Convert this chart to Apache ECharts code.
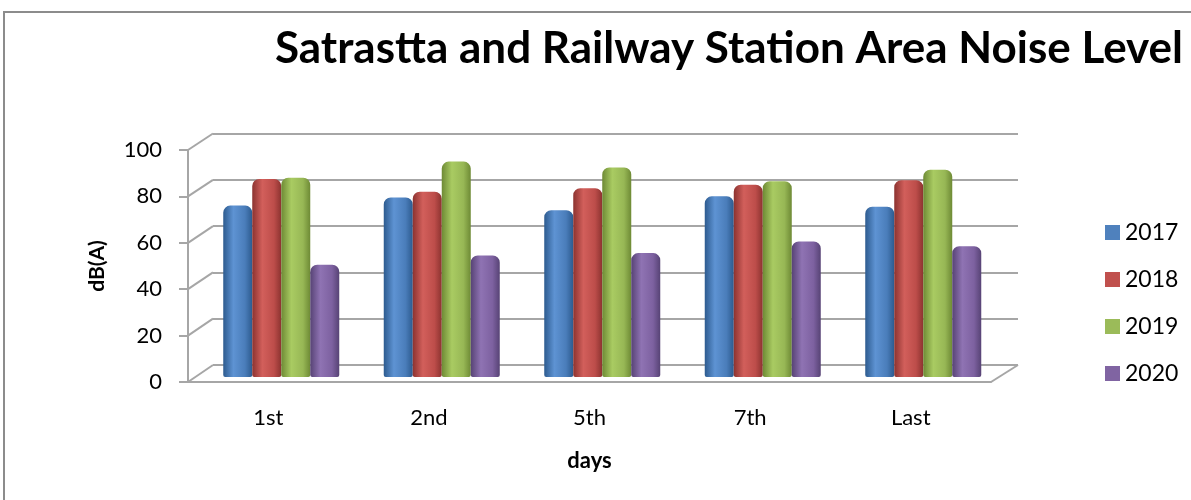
<!DOCTYPE html>
<html>
<head>
<meta charset="utf-8">
<script src="https://cdn.jsdelivr.net/npm/echarts@6/dist/echarts.min.js"></script>
<style>
  html, body { margin: 0; padding: 0; background: #fff; }
  #result { width: 1191px; height: 500px; }
</style>
</head>
<body>
<div id="result"></div>
<script>
// 数据
var categories = ['1st', '2nd', '5th', '7th', 'Last'];
var years = ['2017', '2018', '2019', '2020'];
var s2017 = [74, 77.5, 72, 78, 73.5];
var s2018 = [85.5, 80, 81.5, 83, 85];
var s2019 = [86, 93, 90.5, 84.5, 89.5];
var s2020 = [48.5, 52.5, 53.5, 58.5, 56.5];
var yTicks = [0, 20, 40, 60, 80, 100];

var font = 'Lato';
var gridGray = '#a6a6a6';

// 圆柱效果的渐变
function cyl(dark, light, base) {
    return new echarts.graphic.LinearGradient(0, 0, 1, 0, [
        { offset: 0, color: dark },
        { offset: 0.35, color: light },
        { offset: 0.75, color: base },
        { offset: 1, color: dark }
    ]);
}
var colors = ['#4F81BD', '#C0504D', '#9BBB59', '#8064A2'];
var fills = [
    cyl('#2d5b8f', '#5e93d3', '#4a7dba'),
    cyl('#8c3330', '#d25f5b', '#bd4d4a'),
    cyl('#6e8a35', '#a9cb62', '#97b755'),
    cyl('#574375', '#8f73b3', '#7d61a0')
];
var seriesData = [s2017, s2018, s2019, s2020];

var option = {
    animation: false,
    textStyle: { fontFamily: font },
    // ---- 标题 ----
    title: {
        text: 'Satrastta and Railway Station Area Noise Level',
        left: 270,
        top: 22,
        textStyle: { fontFamily: font, fontWeight: 'bold', fontSize: 44, color: '#000' }
    },
    // ---- legend ----
    legend: {
        orient: 'vertical',
        left: 1100,
        top: 216,
        itemWidth: 15,
        itemHeight: 15,
        itemGap: 24,
        icon: 'rect',
        textStyle: { fontFamily: font, fontSize: 23, color: '#000' },
        data: years.map(function (y, i) {
            return { name: y, itemStyle: { color: colors[i] } };
        })
    },
    grid: [
        { left: 213, top: 133.5, width: 805, height: 231.5 },   // 后墙
        { left: 188, top: 150, width: 803, height: 232 },       // 前轴
        { left: 201, top: 145.4, width: 802.5, height: 231.6 }  // 柱子
    ],
    xAxis: [
        { gridIndex: 0, type: 'category', data: categories, show: false },
        {
            gridIndex: 1, type: 'category', data: categories,
            axisLine: { lineStyle: { color: gridGray, width: 2 } },
            axisTick: { show: false },
            axisLabel: { fontFamily: font, fontSize: 22, color: '#000', margin: 25 },
            name: 'days', nameLocation: 'middle', nameGap: 68,
            nameTextStyle: { fontFamily: font, fontWeight: 'bold', fontSize: 22, color: '#000' }
        },
        { gridIndex: 2, type: 'category', data: categories, show: false }
    ],
    yAxis: [
        {
            gridIndex: 0, type: 'value', min: 0, max: 100, interval: 20,
            axisLine: { show: false }, axisTick: { show: false }, axisLabel: { show: false },
            splitLine: { lineStyle: { color: gridGray, width: 2 } }
        },
        {
            gridIndex: 1, type: 'value', min: 0, max: 100, interval: 20,
            axisLine: { show: true, lineStyle: { color: gridGray, width: 2 } },
            axisTick: { show: true, length: 9, lineStyle: { color: gridGray, width: 2 } },
            axisLabel: { fontFamily: font, fontSize: 22, color: '#000', margin: 26,
                formatter: function (v) { return yTicks.indexOf(v) >= 0 ? String(v) : ''; } },
            splitLine: { show: false },
            name: 'dB(A)', nameLocation: 'middle', nameGap: 80,
            nameTextStyle: { fontFamily: font, fontWeight: 'bold', fontSize: 21, color: '#000' }
        },
        { gridIndex: 2, type: 'value', min: 0, max: 100, interval: 20, show: false }
    ],
    series: years.map(function (y, i) {
        return {
            name: y,
            type: 'bar',
            xAxisIndex: 2,
            yAxisIndex: 2,
            barWidth: 29,
            barGap: '0%',
            itemStyle: { color: fills[i], borderRadius: [7, 7, 2, 2] },
            data: seriesData[i]
        };
    })
};

var myResult = echarts.init(document.getElementById('result'));
myResult.setOption(option);

// 3D 斜线：前轴刻度到后墙
var gfx = [{
    type: 'rect', silent: true, z: -10,
    shape: { x: 4, y: 12, width: 1200, height: 500 },
    style: { fill: 'none', stroke: '#8c8c8c', lineWidth: 2 }
}];
yTicks.forEach(function (v) {
    var fy = myResult.convertToPixel({ yAxisIndex: 1 }, v);
    var by = myResult.convertToPixel({ yAxisIndex: 0 }, v);
    gfx.push({
        type: 'line', silent: true,
        shape: { x1: 188, y1: fy, x2: 213, y2: by },
        style: { stroke: gridGray, lineWidth: 2 }
    });
});
// 地板右侧斜线
gfx.push({
    type: 'line', silent: true,
    shape: {
        x1: 991, y1: myResult.convertToPixel({ yAxisIndex: 1 }, 0),
        x2: 1018, y2: myResult.convertToPixel({ yAxisIndex: 0 }, 0)
    },
    style: { stroke: gridGray, lineWidth: 2 }
});
myResult.setOption({ graphic: gfx });
</script>
</body>
</html>
